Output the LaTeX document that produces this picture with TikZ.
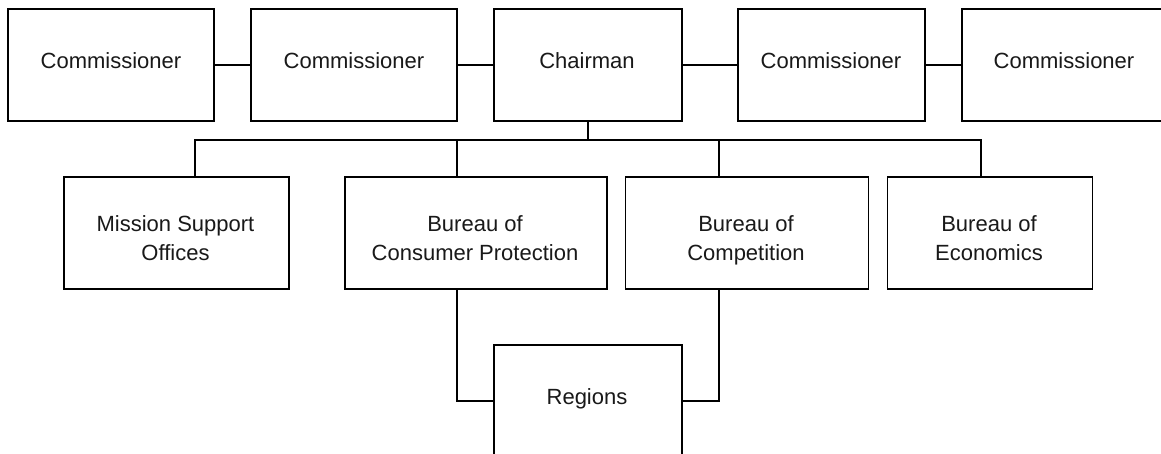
\documentclass[tikz,border=0pt]{standalone}
\usepackage{fontspec}
\setmainfont{Liberation Sans}
\begin{document}
\begin{tikzpicture}[x=1pt,y=-1pt,
  box/.style={draw=black,line width=1.1pt,fill=white,inner sep=0pt},
  link/.style={draw=black,line width=1.1pt},
  txt/.style={inner sep=0pt,anchor=base,font=\fontsize{22}{29}\selectfont,text=black!90}]
\useasboundingbox[fill=white] (0,0) rectangle (1161,454);
% top row
\node[box,minimum width=206pt,minimum height=112pt] (c1) at (111,65) {};
\node[box,minimum width=206pt,minimum height=112pt] (c2) at (354,65) {};
\node[box,minimum width=188pt,minimum height=112pt] (ch) at (588,65) {};
\node[box,minimum width=187pt,minimum height=112pt] (c4) at (831.5,65) {};
\node[box,minimum width=206pt,minimum height=112pt] (c5) at (1065,65) {};
\node[txt] (c1t) at (111,69) {Commissioner};
\node[txt] (c2t) at (354,69) {Commissioner};
\node[txt] (cht) at (587,69) {Chairman};
\node[txt] (c4t) at (831,69) {Commissioner};
\node[txt] (c5t) at (1064,69) {Commissioner};
% second row
\node[box,minimum width=225pt,minimum height=112pt] (mso) at (176.5,233) {};
\node[box,minimum width=262pt,minimum height=112pt] (bcp) at (476,233) {};
\node[box,minimum width=243pt,minimum height=112pt] (bc) at (747,233) {};
\node[box,minimum width=205pt,minimum height=112pt] (be) at (990,233) {};
\node[txt] (msot1) at (175.5,232) {Mission Support};
\node[txt] (msot2) at (175.5,261) {Offices};
\node[txt] (bcpt1) at (475,232) {Bureau of};
\node[txt] (bcpt2) at (475,261) {Consumer Protection};
\node[txt] (bct1) at (746,232) {Bureau of};
\node[txt] (bct2) at (746,261) {Competition};
\node[txt] (bet1) at (989,232) {Bureau of};
\node[txt] (bet2) at (989,261) {Economics};
% regions
\node[box,minimum width=188pt,minimum height=112pt] (reg) at (588,401) {};
\node[txt] (regt) at (587,404) {Regions};
% coordinates for drop lines
\coordinate (xm) at (195,140);
\coordinate (xc) at (457,140);
\coordinate (xk) at (719,140);
\coordinate (xe) at (981,140);
% top row links
\draw[link] (c1) -- (c2);
\draw[link] (c2) -- (ch);
\draw[link] (ch) -- (c4);
\draw[link] (c4) -- (c5);
% bus
\draw[link] (ch.south) -- (ch.south |- xm);
\draw[link] (mso.north -| xm) -- (xm) -- (xe) -- (be.north -| xe);
\draw[link] (xc) -- (bcp.north -| xc);
\draw[link] (xk) -- (bc.north -| xk);
% regions links
\draw[link] (bcp.south -| xc) |- (reg.west);
\draw[link] (bc.south -| xk) |- (reg.east);
\end{tikzpicture}
\end{document}
